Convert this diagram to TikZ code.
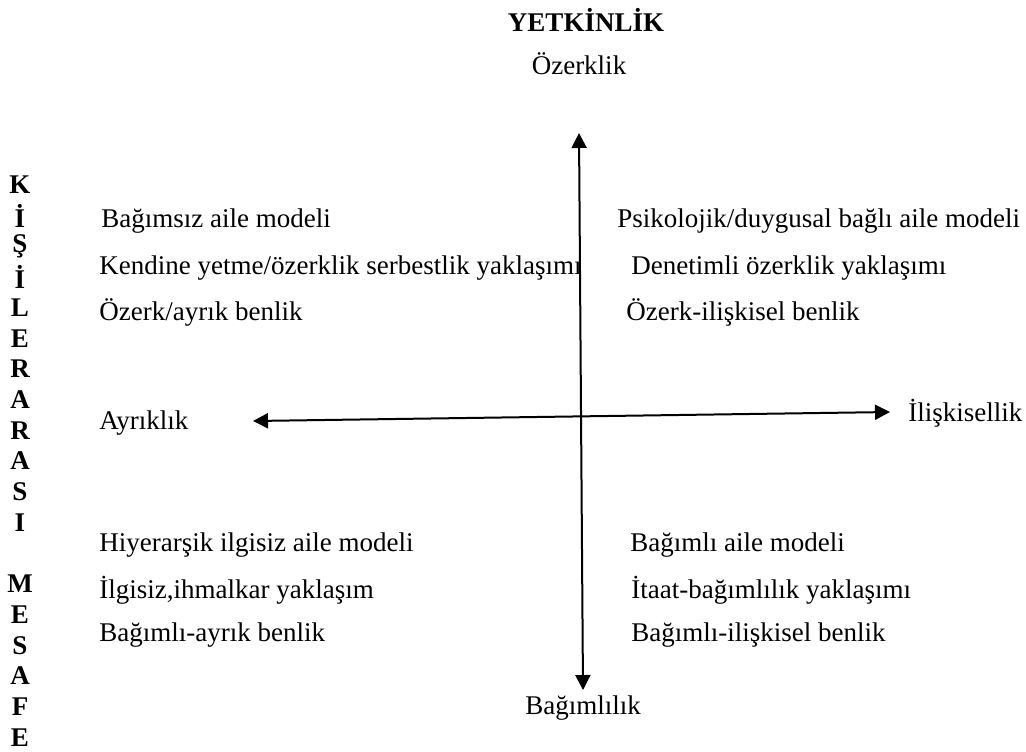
\documentclass[tikz,border=0pt]{standalone}
\usepackage{fontspec}
\setmainfont{Liberation Serif}
\usetikzlibrary{arrows.meta}
\tikzstyle{label} = [inner sep=0pt, anchor=west, font=\fontsize{13.5}{16}\selectfont]
\tikzstyle{title} = [inner sep=0pt, font=\fontsize{13.5}{16}\selectfont\bfseries]
\tikzstyle{plain} = [inner sep=0pt, font=\fontsize{13.5}{16}\selectfont]
\tikzstyle{letter} = [inner sep=0pt, font=\fontsize{13.5}{16}\selectfont\bfseries]
\tikzstyle{axis} = [line width=1pt, {Triangle[length=7.5pt,width=7.5pt]}-{Triangle[length=7.5pt,width=7.5pt]}]

\begin{document}
\begin{tikzpicture}[x=0.5pt, y=-0.5pt]
    \useasboundingbox (0,0) rectangle (1026,751);

    % Top labels
    \node (yetkinlik) [title] at (586,20) {YETKİNLİK};
    \node (ozerklik) [plain] at (579,64) {Özerklik};

    % Axis ends
    \coordinate (top) at (579,133);
    \coordinate (bottom) at (583,690);
    \coordinate (left) at (253,421);
    \coordinate (right) at (890,412);

    % Left quadrants
    \node (bagimsiz) [label] at (101,221) {Bağımsız aile modeli};
    \node (kendine) [label] at (99,268) {Kendine yetme/özerklik serbestlik yaklaşımı};
    \node (ozerkayrik) [label] at (99,312) {Özerk/ayrık benlik};
    \node (ayriklik) [label] at (99,423) {Ayrıklık};
    \node (hiyerarsik) [label] at (99,545) {Hiyerarşik ilgisiz aile modeli};
    \node (ilgisiz) [label] at (99,590) {İlgisiz,ihmalkar yaklaşım};
    \node (bagimliayrik) [label] at (99,635) {Bağımlı-ayrık benlik};

    % Right quadrants
    \node (psikolojik) [label] at (617,221) {Psikolojik/duygusal bağlı aile modeli};
    \node (denetimli) [label] at (631,268) {Denetimli özerklik yaklaşımı};
    \node (ozerkiliskisel) [label] at (626,312) {Özerk-ilişkisel benlik};
    \node (iliskisellik) [label] at (908,413) {İlişkisellik};
    \node (bagimliaile) [label] at (630,545) {Bağımlı aile modeli};
    \node (itaat) [label] at (631,590) {İtaat-bağımlılık yaklaşımı};
    \node (bagimliiliskisel) [label] at (631,635) {Bağımlı-ilişkisel benlik};

    % Bottom label
    \node (bagimlilik) [plain] at (583,708) {Bağımlılık};

    % Vertical side title
    \foreach \ch [count=\i from 0] in {K,İ,Ş,İ,L,E,R,A,R,A,S,I}
        \node (kisi\i) [letter] at (20,185+\i*30.67) {\ch};
    \foreach \ch [count=\i from 0] in {M,E,S,A,F,E}
        \node (mesafe\i) [letter] at (20,584+\i*30.67) {\ch};

    % Axes
    \draw [axis] (bottom) -- (top);
    \draw [axis] (left) -- (right);

\end{tikzpicture}
\end{document}
